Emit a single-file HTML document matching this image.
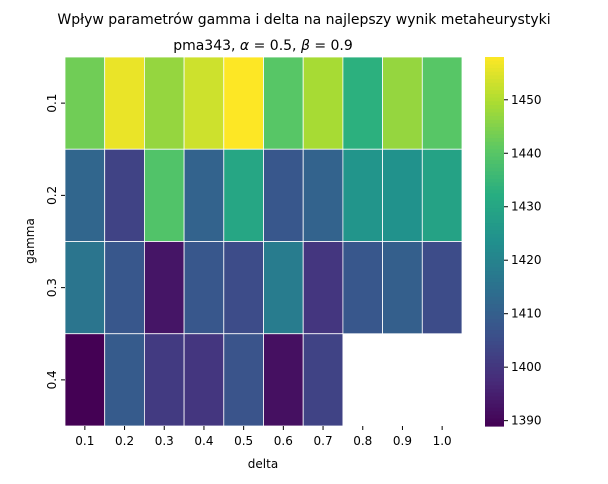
<!DOCTYPE html>
<html><head><meta charset="utf-8"><style>
body{margin:0;background:#fff;font-family:"DejaVu Sans","Liberation Sans",sans-serif;}
svg text{font-family:"DejaVu Sans","Liberation Sans",sans-serif;fill:#000;}
</style></head><body>
<svg id="c" width="608" height="480" xmlns="http://www.w3.org/2000/svg">
<text x="304" y="24" font-size="14" text-anchor="middle">Wpływ parametrów gamma i delta na najlepszy wynik metaheurystyki</text>
<text x="263" y="50" font-size="14" text-anchor="middle">pma343, <tspan font-style="italic">α</tspan> = 0.5, <tspan font-style="italic">β</tspan> = 0.9</text>
<text x="263" y="468" font-size="12" text-anchor="middle">delta</text>
<text x="34" y="241" font-size="12" text-anchor="middle" transform="rotate(-90 34 241)">gamma</text>
<g id="cells"></g><g id="xt"></g><g id="yt"></g><g id="cb"></g>
</svg>
<script>
const deltas=["0.1","0.2","0.3","0.4","0.5","0.6","0.7","0.8","0.9","1.0"];
const gammas=["0.1","0.2","0.3","0.4"];
const row01=[1443,1456,1447,1453,1458,1440,1449,1433,1447,1440];
const row02=[1412,1403,1439,1411,1430,1408,1411,1425,1424,1429];
const row03=[1416,1408,1393,1408,1405,1418,1400,1408,1410,1405];
const row04=[1389,1409,1401,1400,1407,1392,1403,null,null,null];
const cbTicks=[1390,1400,1410,1420,1430,1440,1450];
const rows=[row01,row02,row03,row04];
const vmin=1389,vmax=1458;
const X0=65,X1=462,Y0=57,Y1=426;
const cw=(X1-X0)/deltas.length,ch=(Y1-Y0)/gammas.length;
const vir=[[68,1,84],[71,44,122],[59,81,139],[44,113,142],[33,144,141],[39,173,129],[92,200,99],[170,220,50],[253,231,37]];
function cmap(v){let t=Math.max(0,Math.min(1,(v-vmin)/(vmax-vmin)))*8;let i=Math.min(7,Math.floor(t)),f=t-i;
const a=vir[i],b=vir[i+1];return`rgb(${a.map((x,k)=>Math.round(x+(b[k]-x)*f)).join(',')})`;}
const NS="http://www.w3.org/2000/svg";
function mk(t,at,p){const e=document.createElementNS(NS,t);for(const k in at)e.setAttribute(k,at[k]);p.appendChild(e);return e;}
const cells=document.getElementById('cells');
rows.forEach((r,ri)=>r.forEach((v,ci)=>{if(v===null)return;
const e=mk('rect',{x:X0+ci*cw,y:Y0+ri*ch,width:cw,height:ch,fill:cmap(v),stroke:'#fff','stroke-width':0.8},cells);

}));
const xt=document.getElementById('xt');
deltas.forEach((d,i)=>{const x=X0+(i+0.5)*cw;mk('line',{x1:x,x2:x,y1:Y1,y2:Y1+4,stroke:'#000'},xt);
const t=mk('text',{x:x,y:Y1+19,'font-size':12,'text-anchor':'middle'},xt);t.textContent=d;

});
const yt=document.getElementById('yt');
gammas.forEach((g,i)=>{const y=Y0+(i+0.5)*ch;mk('line',{x1:X0-4,x2:X0,y1:y,y2:y,stroke:'#000'},yt);
const t=mk('text',{x:X0-9,y:y,'font-size':12,'text-anchor':'middle',transform:`rotate(-90 ${X0-9} ${y})`},yt);t.textContent=g;

});
const cb=document.getElementById('cb');const CX=485,CW=19,N=100;
for(let i=0;i<N;i++){const v=vmax-(i+0.5)/N*(vmax-vmin);mk('rect',{x:CX,y:Y0+i*(Y1-Y0)/N,width:CW,height:(Y1-Y0)/N+0.6,fill:cmap(v)},cb);}
const cbr=mk('rect',{x:CX,y:Y0,width:CW,height:Y1-Y0,fill:'none'},cb);


cbTicks.forEach(v=>{const y=Y1-(v-vmin)/(vmax-vmin)*(Y1-Y0);mk('line',{x1:CX+CW,x2:CX+CW+4,y1:y,y2:y,stroke:'#000'},cb);
const t=mk('text',{x:CX+CW+7,y:y+4,'font-size':12},cb);t.textContent=v;

});
</script>
</body></html>
